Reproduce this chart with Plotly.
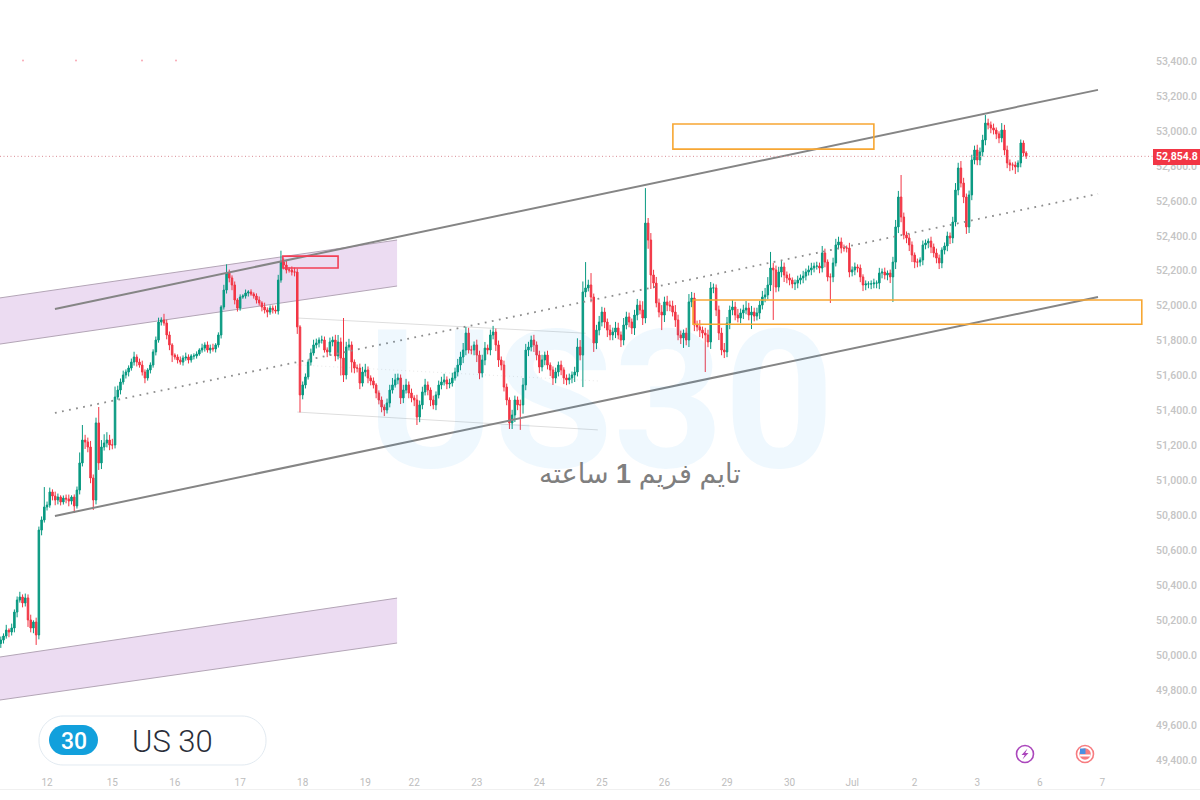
import plotly.graph_objects as go

closes = [
50088,50111,50145,50134,50157,50248,50317,50334,50300,50329,
50203,50157,50191,50117,50717,50775,50849,50860,50935,50912,
50889,50906,50878,50900,50895,50883,50906,50855,50946,51101,
51232,51221,51192,51015,50889,51330,51101,51192,51215,51232,
51204,51204,51478,51518,51564,51604,51621,51644,51678,51707,
51678,51661,51621,51587,51633,51661,51736,51804,51907,51919,
51901,51833,51776,51718,51707,51690,51678,51701,51707,51690,
51713,51713,51724,51747,51758,51776,51747,51758,51753,51776,
51833,51993,52090,52187,52159,52119,52033,51987,52050,52056,
52073,52079,52067,52056,52033,52016,51993,51976,51964,51987,
51976,51970,52147,52250,52233,52205,52205,52193,52193,51879,
51490,51547,51593,51678,51730,51776,51787,51804,51804,51747,
51736,51793,51804,51713,51793,51701,51604,51764,51776,51678,
51644,51644,51558,51621,51633,51587,51570,51547,51501,51461,
51421,51404,51444,51518,51547,51576,51587,51473,51518,51547,
51501,51473,51461,51364,51433,51507,51547,51518,51461,51433,
51490,51547,51564,51576,51553,51558,51587,51621,51661,51707,
51747,51844,51747,51747,51776,51718,51615,51690,51758,51747,
51833,51850,51776,51690,51661,51535,51461,51330,51375,51461,
51433,51433,51547,51747,51764,51804,51776,51718,51650,51690,
51718,51661,51633,51587,51621,51661,51633,51587,51576,51587,
51604,51621,51764,51718,52079,52102,52119,52050,51787,51861,
51907,51964,51907,51861,51833,51850,51873,51833,51804,51890,
51936,51907,51873,51947,52004,51976,51930,52473,52376,52176,
52130,52016,51964,51947,52022,52004,51999,51964,51919,51833,
51816,51844,51804,52022,52044,51890,51879,51861,51844,51833,
51793,52102,52102,51976,51844,51747,51736,51901,51976,51993,
51947,51930,51959,51976,51987,51947,51964,51941,51959,52004,
52050,52062,52119,52216,52205,52107,52193,52222,52176,52159,
52147,52125,52130,52147,52159,52170,52193,52205,52216,52227,
52227,52216,52302,52250,52165,52165,52245,52348,52365,52330,
52330,52330,52193,52205,52222,52216,52165,52119,52125,52125,
52125,52130,52130,52187,52193,52176,52187,52165,52250,52451,
52622,52508,52405,52388,52348,52290,52250,52250,52262,52348,
52359,52370,52336,52302,52273,52245,52319,52342,52399,52388,
52479,52662,52788,52702,52622,52451,52634,52834,52891,52834,
52880,52948,53045,53034,53017,53005,52983,52960,53005,52891,
52817,52805,52805,52794,52817,52931,52874,52855]

upper_wicks = [
20,15,30,10,25,15,20,30,15,25,
20,30,10,25,20,20,114,20,25,15,
25,20,10,15,20,25,10,15,20,60,
86,30,25,35,20,30,91,40,50,45,
30,35,60,25,20,25,15,15,20,30,
15,20,25,15,10,15,15,20,25,15,
35,20,20,10,10,15,20,15,25,15,
10,15,15,10,25,15,20,20,25,10,
15,10,30,50,20,15,20,10,15,10,
20,10,15,10,15,20,10,25,15,15,
15,25,30,65,20,30,15,20,25,20,
10,20,20,15,25,30,25,15,25,20,
15,25,20,30,40,25,229,30,35,20,
15,20,25,30,35,20,15,20,10,15,
20,15,25,30,40,35,25,20,30,35,
20,25,15,30,25,30,35,20,15,25,
20,25,30,35,20,25,30,25,35,30,
40,35,30,25,20,30,25,30,35,20,
30,35,20,25,20,25,20,15,30,25,
20,30,40,35,30,25,30,20,25,30,
20,25,15,20,25,20,25,15,20,25,
20,30,50,40,60,148,30,68,20,30,
35,30,25,20,30,25,35,30,20,40,
30,25,20,30,35,25,50,200,29,40,
30,35,25,40,30,35,25,30,40,30,
25,20,30,45,35,30,25,40,20,30,
30,34,25,20,25,30,40,35,25,40,
30,35,25,30,40,30,35,25,30,25,
35,40,45,92,30,25,30,35,25,20,
25,15,20,25,20,30,20,25,30,20,
25,20,40,25,15,20,30,35,30,25,
20,15,30,20,25,15,20,15,20,15,
20,25,15,30,20,25,15,20,30,40,
35,126,25,20,25,20,15,20,15,25,
20,15,25,20,25,20,15,20,25,20,
30,40,30,40,30,20,25,30,25,30,
25,30,46,25,20,25,15,15,40,30,
25,20,15,20,15,20,15,10]

lower_wicks = [
25,20,15,30,20,25,30,15,25,20,
40,25,30,57,25,30,15,20,15,25,
30,25,20,15,25,30,20,40,15,25,
20,40,30,30,57,25,40,35,20,25,
30,25,20,15,25,15,20,25,15,20,
25,15,20,30,15,20,15,20,15,20,
15,25,30,40,15,20,15,20,15,20,
15,20,15,10,15,20,15,20,15,20,
15,20,15,20,25,30,25,20,15,10,
15,20,10,15,20,15,25,20,30,15,
20,15,20,15,25,20,15,20,25,40,
100,25,20,15,20,15,20,25,20,15,
30,20,25,30,20,100,40,25,20,60,
30,25,35,20,25,30,25,20,30,25,
30,35,20,25,20,15,25,35,30,20,
30,25,35,46,30,25,20,30,35,25,
30,20,25,20,30,25,20,15,25,30,
35,30,20,25,30,40,35,25,30,25,
30,25,35,40,30,25,30,35,35,40,
30,143,50,30,35,25,40,30,35,25,
30,25,35,40,30,25,30,35,30,25,
30,40,25,30,183,30,20,30,51,35,
30,25,35,40,30,30,35,25,40,30,
25,30,35,40,30,25,40,30,50,80,
30,25,30,86,40,35,30,25,40,30,
35,57,30,40,30,35,25,40,30,212,
30,40,30,35,40,30,35,30,35,30,
30,25,30,35,25,30,80,30,25,35,
25,30,25,35,286,30,25,30,40,30,
30,25,35,30,25,30,25,20,30,25,
20,30,25,30,25,149,30,20,25,30,
20,25,30,25,30,25,30,35,30,25,
30,25,30,35,30,25,30,35,143,40,
35,30,25,30,35,40,35,30,25,30,
25,30,35,25,30,35,30,25,30,35,
30,25,30,25,35,40,35,30,25,30,
30,25,30,25,30,25,30,30,25,30,
30,35,30,40,30,25,20,15]

day_ticks = [17,41,64,88,111,134,152,175,198,221,244,267,290,313,336,359,382,405]
day_labels = ["12","15","16","17","18","19","22","23","24","25","26","29","30","Jul","2","3","6","7"]
price_ticks = list(range(49400, 53401, 200))
last_price = 52854.8

opens = [closes[0] - 20] + closes[:-1]
highs = [max(o, c) + u for o, c, u in zip(opens, closes, upper_wicks)]
lows = [min(o, c) - l for o, c, l in zip(opens, closes, lower_wicks)]
idx = list(range(len(closes)))

H = 789.0
def fx(p): return p / 1200.0
def fy(p): return 1 - p / H

fig = go.Figure(go.Candlestick(
    x=idx, open=opens, high=highs, low=lows, close=closes,
    increasing=dict(line=dict(color="#089981", width=1), fillcolor="#089981"),
    decreasing=dict(line=dict(color="#F23645", width=1), fillcolor="#F23645"),
    whiskerwidth=0, hoverinfo="skip", showlegend=False))

shapes = []
def band(x0, x1, y0t, y1t, y0b, y1b):
    shapes.append(dict(type="path", xref="x", yref="y", layer="below",
        path=f"M {x0},{y0t} L {x1},{y1t} L {x1},{y1b} L {x0},{y0b} Z",
        fillcolor="#ECDCF2", line=dict(width=0)))
    for a, b in ((y0t, y1t), (y0b, y1b)):
        shapes.append(dict(type="line", xref="x", yref="y", layer="below", x0=x0, x1=x1, y0=a, y1=b,
                           line=dict(color="#B3A5B6", width=1)))
band(-0.3, 145.7, 52045, 52376, 51781, 52113)
band(-0.3, 145.7, 49991, 50328, 49745, 50071)

def line(x0, y0, x1, y1, color, width, dash="solid", layer="above"):
    shapes.append(dict(type="line", xref="x", yref="y", layer=layer, x0=x0, x1=x1, y0=y0, y1=y1,
                       line=dict(color=color, width=width, dash=dash)))
line(19.9, 51982, 403.4, 53235, "#858585", 2)
line(19.9, 50798, 403.4, 52050, "#858585", 2)
line(19.9, 51387, 403.4, 52640, "#8E8E8E", 1.8, "1.8px,5.4px")
line(109, 51930, 215, 51843, "#DEDEDE", 1, layer="below")
line(109, 51392, 219.5, 51290, "#DEDEDE", 1, layer="below")
line(109, 51662, 219.5, 51570, "#EAEAEA", 1, "1px,3px", layer="below")
shapes.append(dict(type="line", xref="paper", yref="y", x0=0, x1=1153/1200, y0=last_price, y1=last_price,
                   line=dict(color="#D98C95", width=1, dash="1px,2.5px")))

for a, b, c, d, col in ((247.1, 53040, 321, 52896, "#F7A733"),
                        (254.5, 52033, 419.5, 51894, "#F7A733"),
                        (103.7, 52284, 124, 52216, "#F23F55")):
    shapes.append(dict(type="rect", xref="x", yref="y", x0=a, x1=c, y0=b, y1=d,
                       line=dict(color=col, width=1.6)))

shapes.append(dict(type="rect", xref="paper", yref="paper", x0=fx(1153), x1=1, y0=fy(165), y1=fy(149),
                   fillcolor="#F23645", line=dict(width=0)))

def rounded(x0, y0, x1, y1, r, fill, color, width):
    k = 0.55 * r
    X = lambda v: f"{fx(v):.5f}"
    Y = lambda v: f"{fy(v):.5f}"
    p = (f"M {X(x0+r)},{Y(y0)} L {X(x1-r)},{Y(y0)} C {X(x1-r+k)},{Y(y0)} {X(x1)},{Y(y0+r-k)} {X(x1)},{Y(y0+r)} "
         f"L {X(x1)},{Y(y1-r)} C {X(x1)},{Y(y1-r+k)} {X(x1-r+k)},{Y(y1)} {X(x1-r)},{Y(y1)} "
         f"L {X(x0+r)},{Y(y1)} C {X(x0+r-k)},{Y(y1)} {X(x0)},{Y(y1-r+k)} {X(x0)},{Y(y1-r)} "
         f"L {X(x0)},{Y(y0+r)} C {X(x0)},{Y(y0+r-k)} {X(x0+r-k)},{Y(y0)} {X(x0+r)},{Y(y0)} Z")
    shapes.append(dict(type="path", xref="paper", yref="paper", path=p, fillcolor=fill,
                       line=dict(color=color, width=width)))
rounded(39, 716, 266, 765, 24, "#FFFFFF", "#E2EAF1", 1)
rounded(49, 725, 98, 755, 15, "#12A0DC", "#12A0DC", 0)

def circle(cx, cy, r, fill, color, width):
    shapes.append(dict(type="circle", xref="paper", yref="paper", x0=fx(cx-r), x1=fx(cx+r),
                       y0=fy(cy+r), y1=fy(cy-r), fillcolor=fill, line=dict(color=color, width=width)))
circle(1025, 754, 8.5, "#FFFFFF", "#AB47BC", 1.6)
shapes.append(dict(type="path", xref="paper", yref="paper", fillcolor="#AB47BC", line=dict(width=0),
    path=f"M {fx(1027.5)},{fy(748.5)} L {fx(1021.5)},{fy(755)} L {fx(1024.7)},{fy(755)} L {fx(1022.5)},{fy(759.5)} "
         f"L {fx(1028.5)},{fy(753)} L {fx(1025.3)},{fy(753)} Z"))
circle(1085, 754, 8.5, "#FFFFFF", "#F77C80", 1.6)
circle(1085, 754, 5.8, "#F77C80", "#F77C80", 0)
shapes.append(dict(type="rect", xref="paper", yref="paper", x0=fx(1079.5), x1=fx(1090.5), y0=fy(756.5), y1=fy(754.5),
                   fillcolor="#FFFFFF", line=dict(width=0)))
shapes.append(dict(type="rect", xref="paper", yref="paper", x0=fx(1080), x1=fx(1085.5), y0=fy(754), y1=fy(748.5),
                   fillcolor="#4A90E2", line=dict(width=0)))
for px_ in (23, 76, 142, 176):
    circle(px_, 60.5, 1, "#F9A9B5", "#F9A9B5", 0)

def note(px_, py_, text, size, color, family="Roboto", weight=None, xanchor="center"):
    fig.add_annotation(x=fx(px_), y=fy(py_), xref="paper", yref="paper", text=text, showarrow=False,
                       xanchor=xanchor, yanchor="middle",
                       font=dict(size=size, color=color, family=family, weight=weight))
note(601, 401, "US30", 193, "rgba(33,150,243,0.07)", weight=700)
note(640, 474, "تایم فریم <b>1</b> ساعته", 27, "#7F7F7F", family="Liberation Sans, DejaVu Sans")
note(1176.5, 157, "52,854.8", 10.5, "#FFFFFF", weight=700)
note(73.5, 741, "30", 23, "#FFFFFF", weight=500)
note(172, 741.5, "US 30", 31, "#2A2E39", family="Roboto Light, Roboto", weight=300)

fig.update_layout(
    width=1200, height=800, margin=dict(l=0, r=0, t=0, b=11),
    paper_bgcolor="#FFFFFF", plot_bgcolor="#FFFFFF", shapes=shapes, showlegend=False, dragmode=False,
    boxgap=0.2,
    xaxis=dict(range=[-0.294, 440.9], rangeslider=dict(visible=False), tickmode="array",
               tickvals=day_ticks, ticktext=day_labels, ticklabelposition="inside", ticks="",
               showgrid=False, zeroline=False, showline=True, linecolor="#F0F0F0",
               tickfont=dict(family="Roboto", size=10, color="#BDBDBD")),
    yaxis=dict(range=[49236, 53749], side="right", tickmode="array", tickvals=price_ticks,
               ticktext=[f"{v:,.1f}" for v in price_ticks], ticklabelposition="inside", ticks="",
               showgrid=False, zeroline=False, showline=False,
               tickfont=dict(family="Roboto", size=10.5, color="#C4C4C4", weight=500)),
)
fig.write_html("out.html", config=dict(displayModeBar=False),
               post_script="document.body.style.margin='0';")
